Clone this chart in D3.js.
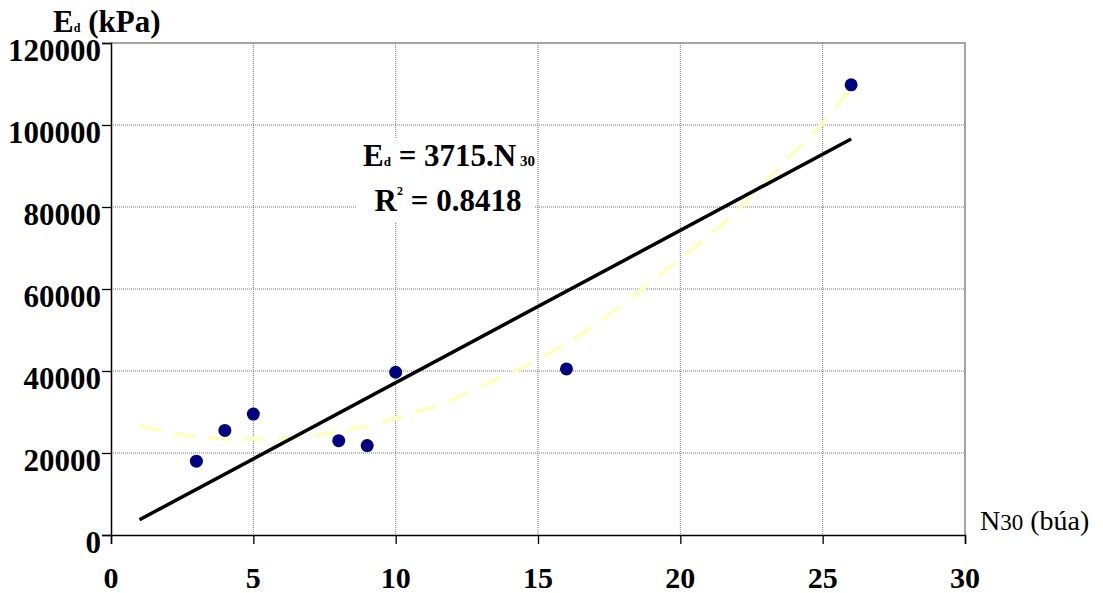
<!DOCTYPE html>
<html>
<head>
<meta charset="utf-8">
<script src="https://cdn.jsdelivr.net/npm/d3@7"></script>
<style>
  html, body { margin: 0; padding: 0; background: #fff; }
  svg { display: block; }
  text { font-family: "Liberation Serif", "Times New Roman", serif; }
</style>
</head>
<body>
<div id="chart"></div>
<script>
// measured points
var pointsN = [3, 4, 5, 8, 9, 10, 16, 26];
var pointsE = [18000, 25500, 29500, 23000, 21800, 39700, 40500, 109800];

// linear trend line (Ed = 3715.N30)
var fitN = [1, 26];
var fitE = [3715, 96590];

// dashed yellow trend curve
var curveN = [1, 3.1, 4.4, 6.5, 7.9, 9.7, 10.6, 11.8, 13.1, 14.5, 15.9, 17.1, 18.3, 19.5, 20.7, 21.9, 22.7, 23.8, 24.2, 25.2, 25.6, 26];
var curveE = [26600, 23900, 23400, 23700, 25100, 27800, 29800, 32400, 36600, 41000, 46300, 51700, 58000, 64600, 71200, 78500, 84100, 92000, 94600, 102000, 105600, 108500];

var xTicks = [0, 5, 10, 15, 20, 25, 30];
var yTicks = [0, 20000, 40000, 60000, 80000, 100000, 120000];

var width = 1103, height = 593;

var svg = d3.select('#chart').append('svg')
  .attr('width', width)
  .attr('height', height);

var x = d3.scaleLinear().domain([0, 30]).range([111, 965]);
var y = d3.scaleLinear().domain([0, 120000]).range([535, 43]);

// grid lines
svg.selectAll('line.hgrid')
  .data(yTicks.slice(1, -1))
  .enter().append('line')
  .attr('class', 'hgrid')
  .attr('x1', x(0)).attr('x2', x(30))
  .attr('y1', function(d) {return y(d)}).attr('y2', function(d) {return y(d)})
  .style('stroke', '#777')
  .style('stroke-width', 1)
  .style('stroke-dasharray', '1,1');

svg.selectAll('line.vgrid')
  .data(xTicks.slice(1, -1))
  .enter().append('line')
  .attr('class', 'vgrid')
  .attr('x1', function(d) {return x(d)}).attr('x2', function(d) {return x(d)})
  .attr('y1', y(120000)).attr('y2', y(0))
  .style('stroke', '#777')
  .style('stroke-width', 1)
  .style('stroke-dasharray', '1,1');

// plot frame top / right
svg.append('path')
  .attr('d', 'M' + x(0) + ',' + y(120000) + 'H' + x(30) + 'V' + y(0))
  .style('fill', 'none')
  .style('stroke', '#888')
  .style('stroke-width', 1.5);

// axes
var xAxis = svg.append('g')
  .attr('transform', 'translate(0,' + y(0) + ')')
  .call(d3.axisBottom(x).tickValues(xTicks).tickSize(9).tickFormat(''));
var yAxis = svg.append('g')
  .attr('transform', 'translate(' + x(0) + ',0)')
  .call(d3.axisLeft(y).tickValues(yTicks).tickSize(9).tickFormat(''));
[xAxis, yAxis].forEach(function(g) {
  g.select('.domain').style('stroke', '#000').style('stroke-width', 1.5);
  g.selectAll('.tick line').style('stroke', '#000').style('stroke-width', 1.3);
});

// tick labels
svg.selectAll('text.xlab')
  .data(xTicks)
  .enter().append('text')
  .attr('class', 'xlab')
  .attr('x', function(d) {return x(d)})
  .attr('y', 588)
  .attr('text-anchor', 'middle')
  .style('font-size', '30px')
  .style('font-weight', 'bold')
  .text(function(d) {return d});

svg.selectAll('text.ylab')
  .data(yTicks)
  .enter().append('text')
  .attr('class', 'ylab')
  .attr('x', 101)
  .attr('y', function(d) {return y(d) + 18})
  .attr('text-anchor', 'end')
  .style('font-size', '31px')
  .style('font-weight', 'bold')
  .text(function(d) {return d});

// dashed polynomial curve
var curveData = curveN.map(function(n, i) {return [n, curveE[i]]});
svg.append('path')
  .datum(curveData)
  .attr('d', d3.line()
    .x(function(d) {return x(d[0])})
    .y(function(d) {return y(d[1])})
    .curve(d3.curveMonotoneX))
  .style('fill', 'none')
  .style('stroke', '#ffffc4')
  .style('stroke-width', 4)
  .style('stroke-dasharray', '22,13');

// linear fit
svg.append('line')
  .attr('x1', x(fitN[0])).attr('y1', y(fitE[0]))
  .attr('x2', x(fitN[1])).attr('y2', y(fitE[1]))
  .style('stroke', '#000')
  .style('stroke-width', 3.5);

// points
svg.selectAll('circle')
  .data(pointsN)
  .enter().append('circle')
  .attr('cx', function(d) {return x(d)})
  .attr('cy', function(d, i) {return y(pointsE[i])})
  .attr('r', 6.5)
  .style('fill', '#000080');

// equation box
svg.append('rect')
  .attr('x', 357).attr('y', 138)
  .attr('width', 178).attr('height', 84)
  .style('fill', '#fff');

var eq1 = svg.append('text')
  .attr('x', 449).attr('y', 166)
  .attr('text-anchor', 'middle')
  .style('font-size', '31px')
  .style('font-weight', 'bold');
eq1.append('tspan').text('E');
eq1.append('tspan').style('font-size', '13px').text('d');
eq1.append('tspan').text(' = 3715.N');
eq1.append('tspan').style('font-size', '15px').text(' 30');

var eq2 = svg.append('text')
  .attr('x', 448).attr('y', 211)
  .attr('text-anchor', 'middle')
  .style('font-size', '31px')
  .style('font-weight', 'bold');
eq2.append('tspan').text('R');
eq2.append('tspan').style('font-size', '12px').attr('dy', -16).text('2');
eq2.append('tspan').attr('dy', 16).text(' = 0.8418');

// axis titles
var yt = svg.append('text')
  .attr('x', 53).attr('y', 32)
  .style('font-size', '31px')
  .style('font-weight', 'bold');
yt.append('tspan').text('E');
yt.append('tspan').style('font-size', '12px').text('d');
yt.append('tspan').text(' (kPa)');

var xt = svg.append('text')
  .attr('x', 980).attr('y', 530)
  .style('font-size', '28px');
xt.append('tspan').text('N');
xt.append('tspan').style('font-size', '23px').text('30');
xt.append('tspan').text(' (búa)');
</script>
</body>
</html>
